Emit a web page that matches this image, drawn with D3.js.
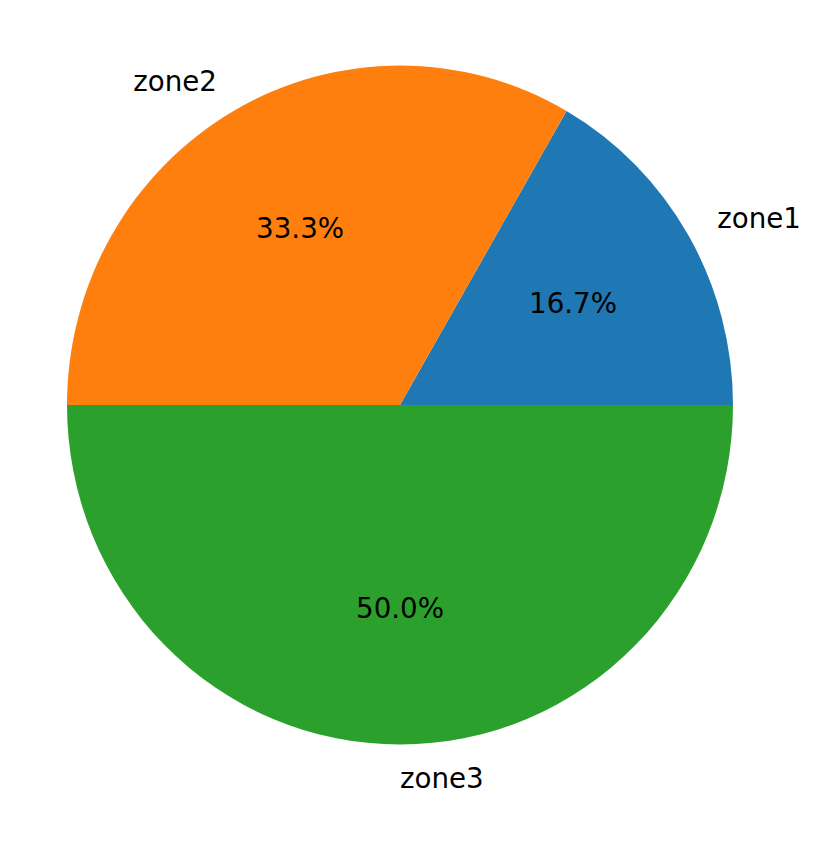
<!DOCTYPE html>
<html><head><meta charset="utf-8">
<script src="https://cdn.jsdelivr.net/npm/d3@7"></script>
<style>body{margin:0;background:#fff}text{font-family:"DejaVu Sans",sans-serif}</style>
</head><body>
<svg id="c" width="822" height="868"></svg>
<script>
const labels = ["zone1", "zone2", "zone3"];
const values = [1, 2, 3];
const colors = ["#1f77b4", "#ff7f0e", "#2ca02c"];

const cx = 400, cy = 405, rx = 333, ry = 339.5, fs = 27.7;
const svg = d3.select("#c");
const total = d3.sum(values);
// angles: matplotlib starts at east, counterclockwise
const pie = d3.pie().sort(null).value(d => d)
  .startAngle(Math.PI / 2).endAngle(Math.PI / 2 - 2 * Math.PI);
const arcs = pie(values);
const arc = d3.arc().innerRadius(0).outerRadius(rx);
const g = svg.append("g").attr("transform", `translate(${cx},${cy}) scale(1,${ry / rx})`);
g.selectAll("path").data(arcs).enter().append("path")
  .attr("d", arc).attr("fill", (d, i) => colors[i]);

arcs.forEach((d, i) => {
  const mid = (d.startAngle + d.endAngle) / 2; // d3 angle: 0 = north, clockwise
  const sx = Math.sin(mid), sy = -Math.cos(mid);
  const lx = cx + 1.1 * rx * sx, ly = cy + 1.1 * ry * sy;
  svg.append("text").attr("x", lx).attr("y", ly).attr("dy", "0.35em")
    .attr("font-size", fs).attr("text-anchor", sx >= -1e-9 ? "start" : "end")
    .text(labels[i]);
  const px = cx + 0.6 * rx * sx, py = cy + 0.6 * ry * sy;
  svg.append("text").attr("x", px).attr("y", py).attr("dy", "0.35em")
    .attr("font-size", fs).attr("text-anchor", "middle")
    .text((values[i] / total * 100).toFixed(1) + "%");
});
</script>
</body></html>
